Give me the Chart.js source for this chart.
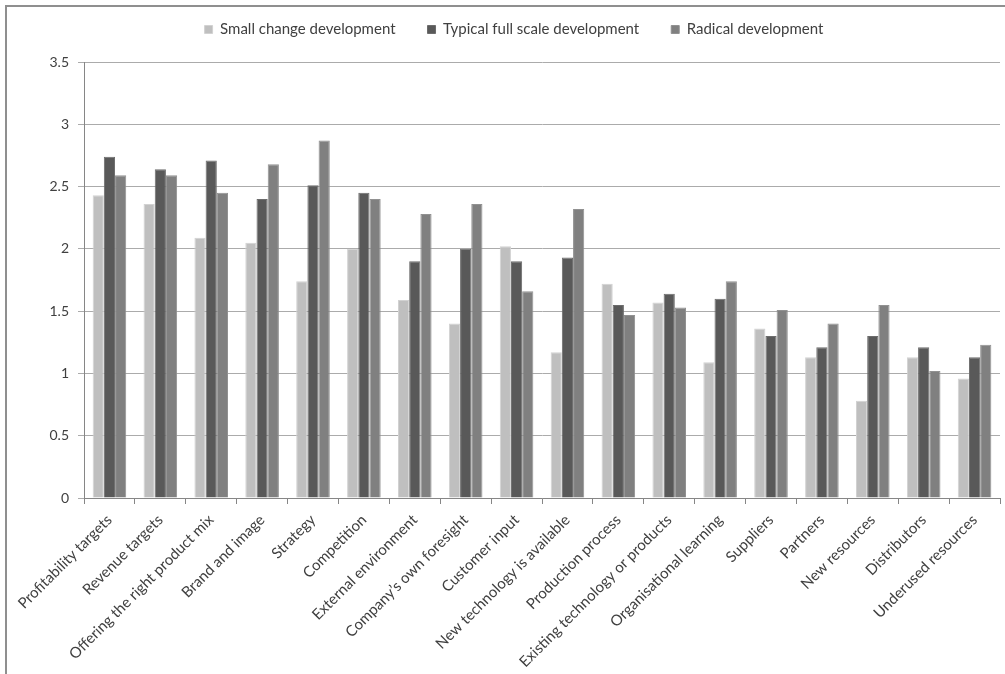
<!DOCTYPE html>
<html>
<head>
<meta charset="utf-8">
<script src="https://cdn.jsdelivr.net/npm/chart.js@4"></script>
<style>
  html, body { margin: 0; padding: 0; background: #fff; }
  #wrap { position: relative; width: 1005px; height: 674px; overflow: hidden; }
  #frame { position: absolute; left: 5px; top: 5px; width: 1100px; height: 800px;
           border-left: 2px solid #8f8f8f; border-top: 2px solid #8f8f8f; }
  #chart { position: absolute; left: 0; top: 0; }
</style>
</head>
<body>
<div id="wrap">
  <div id="frame"></div>
  <canvas id="chart" width="1005" height="674"></canvas>
</div>
<script>
const categories = [
  'Profitability targets', 'Revenue targets', 'Offering the right product mix',
  'Brand and image', 'Strategy', 'Competition', 'External environment',
  'Company\u2019s own foresight', 'Customer input', 'New technology is available',
  'Production process', 'Existing technology or products', 'Organisational learning',
  'Suppliers', 'Partners', 'New resources', 'Distributors', 'Underused resources'
];
const smallChange = [2.43, 2.36, 2.09, 2.05, 1.74, 2.00, 1.59, 1.40, 2.02, 1.17,
                     1.72, 1.57, 1.09, 1.36, 1.13, 0.78, 1.13, 0.96];
const typicalFull = [2.74, 2.64, 2.71, 2.40, 2.51, 2.45, 1.90, 2.00, 1.90, 1.93,
                     1.55, 1.64, 1.60, 1.30, 1.21, 1.30, 1.21, 1.13];
const radical     = [2.59, 2.59, 2.45, 2.68, 2.87, 2.40, 2.28, 2.36, 1.66, 2.32,
                     1.47, 1.53, 1.74, 1.51, 1.40, 1.55, 1.02, 1.23];
const yTicks = [0, 0.5, 1, 1.5, 2, 2.5, 3, 3.5];

const textColor = '#404040';
const axisColor = '#868686';

// fixed legend height, and the legend row sits a little right of centre
const legendTweak = {
  id: 'legendTweak',
  beforeInit(chart) {
    const legend = chart.legend;
    const fit = legend.fit;
    legend.fit = function () {
      fit.bind(legend)();
      this.height = 71;
    };
    const draw = legend.draw;
    legend.draw = function () {
      const ctx = chart.ctx;
      ctx.save();
      ctx.translate(14, -1);
      draw.apply(legend, arguments);
      ctx.restore();
    };
  }
};

new Chart(document.getElementById('chart'), {
  type: 'bar',
  data: {
    labels: categories,
    datasets: [
      { label: 'Small change development', data: smallChange,
        backgroundColor: '#BFBFBF', borderColor: '#D2D2D2', borderWidth: 1 },
      { label: 'Typical full scale development', data: typicalFull,
        backgroundColor: '#595959', borderColor: '#6C6C6C', borderWidth: 1 },
      { label: 'Radical development', data: radical,
        backgroundColor: '#808080', borderColor: '#919191', borderWidth: 1 }
    ]
  },
  plugins: [legendTweak],
  options: {
    responsive: false,
    animation: false,
    layout: { padding: { left: 0, right: 5, top: -9, bottom: 0 } },
    datasets: { bar: { categoryPercentage: 0.66, barPercentage: 1.0 } },
    plugins: {
      tooltip: { enabled: false },
      legend: {
        position: 'top',
        labels: {
          boxWidth: 8, boxHeight: 8, padding: 32,
          color: textColor,
          font: { family: 'Lato', size: 15 }
        }
      }
    },
    scales: {
      x: {
        afterFit(scale) { scale.height = 176; },
        grid: { drawOnChartArea: false, tickLength: 6, color: axisColor, offset: true },
        border: { color: axisColor, width: 1 },
        ticks: {
          minRotation: 45, maxRotation: 45, autoSkip: false,
          color: textColor, padding: 7,
          font: { family: 'Lato', size: 15 }
        }
      },
      y: {
        min: 0, max: 3.5,
        afterFit(scale) { scale.width = 84; },
        afterBuildTicks(scale) { scale.ticks = yTicks.map(v => ({ value: v })); },
        grid: { color: '#ABABAB', tickLength: 6, lineWidth: 1 },
        border: { color: axisColor, width: 1 },
        ticks: {
          color: textColor, padding: 9,
          font: { family: 'Lato', size: 14 },
          callback: v => String(v)
        }
      }
    }
  }
});
</script>
</body>
</html>
